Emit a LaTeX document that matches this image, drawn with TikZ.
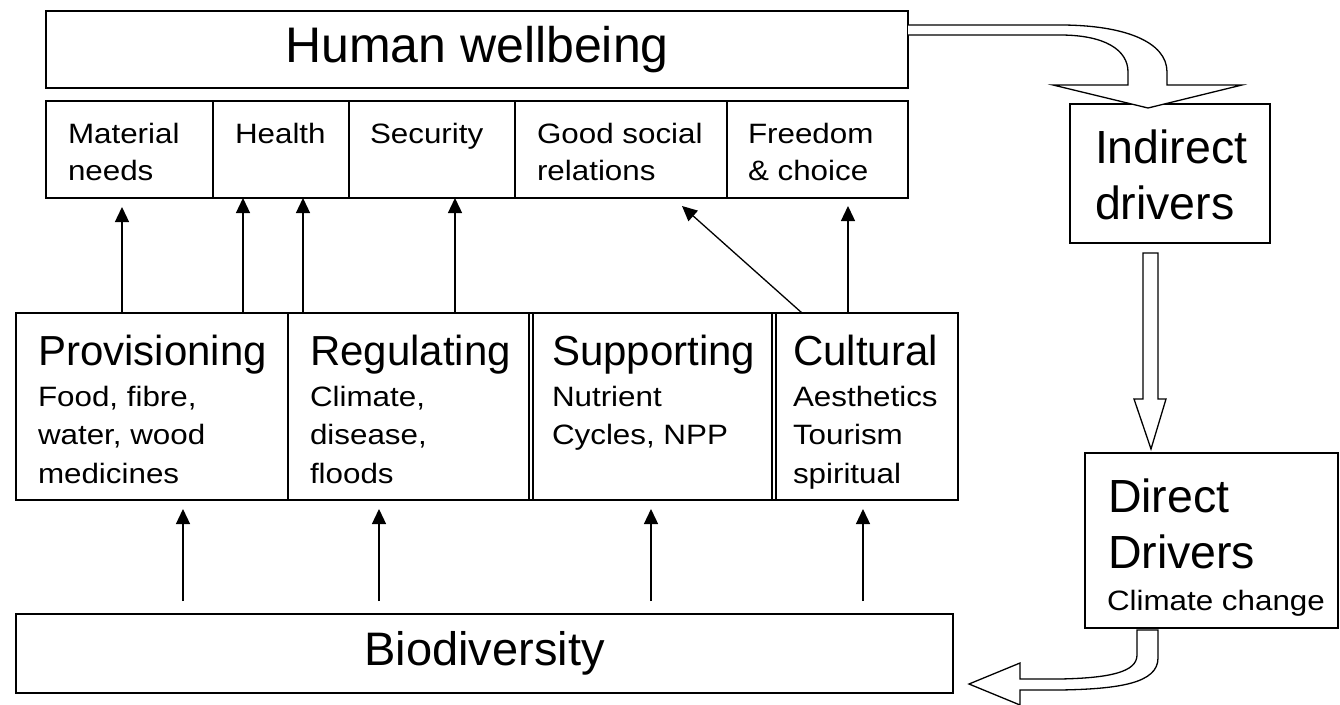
\documentclass[tikz,border=0pt]{standalone}
\usepackage{fontspec}
\setmainfont{Liberation Sans}
\newfontfamily\sfx{Liberation Sans}[FakeStretch=1.12]
\usetikzlibrary{arrows.meta}
\newcommand\stack[1]{\vtop{\halign{##\hfil\cr #1\crcr}}}
\begin{document}
\begin{tikzpicture}[x=1pt,y=-1pt,
  box/.style={draw,line width=1.4pt,anchor=north west,inner sep=0pt,outer sep=0pt},
  txt/.style={anchor=base west,inner sep=0pt,outer sep=0pt},
  big/.style={font=\fontsize{42}{50}\selectfont},
  huge/.style={font=\fontsize{46.5}{56}\selectfont},
  small/.style={font=\sfx\fontsize{28}{38.5}\selectfont},
  smallw/.style={font=\sfx\fontsize{28}{37}\selectfont},
  arr/.style={line width=1.3pt,-{Triangle[length=15pt,width=14pt]}},
  hollow/.style={draw,line width=1.3pt,fill=white,line join=miter}]
\useasboundingbox[fill=white] (0,0) rectangle (1340,704);

% Human wellbeing
\node[box,minimum width=862pt,minimum height=77pt,font=\fontsize{50}{60}\selectfont] (hw) at (46,11) {Human wellbeing};

% wellbeing constituents
\node[box,minimum width=167pt,minimum height=97pt] (mat) at (46,101) {};
\node[box,minimum width=136pt,minimum height=97pt] (hea) at (213,101) {};
\node[box,minimum width=166pt,minimum height=97pt] (sec) at (349,101) {};
\node[box,minimum width=212pt,minimum height=97pt] (soc) at (515,101) {};
\node[box,minimum width=181pt,minimum height=97pt] (fre) at (727,101) {};
\node[txt,smallw] (matt) at (68,143) {\stack{Material\cr needs}};
\node[txt,smallw] (heat) at (235,143) {Health};
\node[txt,smallw] (sect) at (370,143) {Security};
\node[txt,smallw] (soct) at (537,143) {\stack{Good social\cr relations}};
\node[txt,smallw] (fret) at (748,143) {\stack{Freedom\cr \& choice}};

% services
\draw[line width=1.4pt] (16,313) rectangle (958,500);
\node[box,minimum width=272pt,minimum height=187pt] (prov) at (16,313) {};
\node[box,minimum width=241pt,minimum height=187pt] (reg) at (288,313) {};
\node[box,minimum width=239pt,minimum height=187pt] (sup) at (533,313) {};
\node[box,minimum width=182pt,minimum height=187pt] (cul) at (776,313) {};
\node[txt,big] (provt) at (38,365) {Provisioning};
\node[txt,big] (regt) at (310,365) {Regulating};
\node[txt,big] (supt) at (552,365) {Supporting};
\node[txt,big] (cult) at (793,365) {Cultural};
\node[txt,small] (provs) at (38,406) {\stack{Food, fibre,\cr water, wood\cr medicines}};
\node[txt,small] (regs) at (310,406) {\stack{Climate,\cr disease,\cr floods}};
\node[txt,small] (sups) at (552,406) {\stack{Nutrient\cr Cycles, NPP}};
\node[txt,small] (culs) at (793,406) {\stack{Aesthetics\cr Tourism\cr spiritual}};

% biodiversity
\node[box,minimum width=937pt,minimum height=79pt,font=\fontsize{47}{56}\selectfont] (bio) at (16,614) {Biodiversity};

% drivers
\node[box,minimum width=200pt,minimum height=139pt] (ind) at (1070,104) {};
\node[txt,huge] (indt) at (1095,163) {\stack{Indirect\cr drivers}};
\node[box,minimum width=253pt,minimum height=175pt] (dir) at (1085,453) {};
\node[txt,huge] (dirt) at (1108,512) {\stack{Direct\cr Drivers}};
\node[txt,font=\sfx\fontsize{28}{34}\selectfont] (dirs) at (1107,610) {Climate change};

% arrows services -> wellbeing
\draw[arr] (prov.north -| 122,0) -- (122,207);
\draw[arr] (prov.north -| 243,0) -- (mat.south -| 243,0);
\draw[arr] (reg.north -| 303,0) -- (hea.south -| 303,0);
\draw[arr] (reg.north -| 455,0) -- (sec.south -| 455,0);
\draw[arr] (cul.north -| 802,0) -- (682,206);
\draw[arr] (cul.north -| 848,0) -- (848,206);

% arrows biodiversity -> services
\draw[arr] (183,601) -- (183,509);
\draw[arr] (379,601) -- (379,509);
\draw[arr] (651,601) -- (651,509);
\draw[arr] (863,601) -- (863,509);

% hollow arrows
\draw[hollow] (hw.east |- 0,25) -- (1060,25) .. controls (1125,25) and (1167,42) .. (1167,72)
  -- (1167,85) -- (1242,85) -- (1148,108) -- (1053,85) -- (1128,85) -- (1128,72)
  .. controls (1128,50) and (1105,35) .. (1060,35) -- (hw.east |- 0,35);
\draw[hollow] (1143,253) -- (1158,253) -- (1158,399) -- (1166,399) -- (1151,449)
  -- (1134,399) -- (1143,399) -- cycle;
\draw[hollow] (1137,630) -- (1158,630) -- (1158,658) .. controls (1158,683) and (1120,689) .. (1060,690)
  -- (1020,690) -- (1020,705) -- (969,684) -- (1020,663) -- (1020,679) -- (1060,679)
  .. controls (1110,678) and (1137,672) .. (1137,655) -- cycle;
\end{tikzpicture}
\end{document}
